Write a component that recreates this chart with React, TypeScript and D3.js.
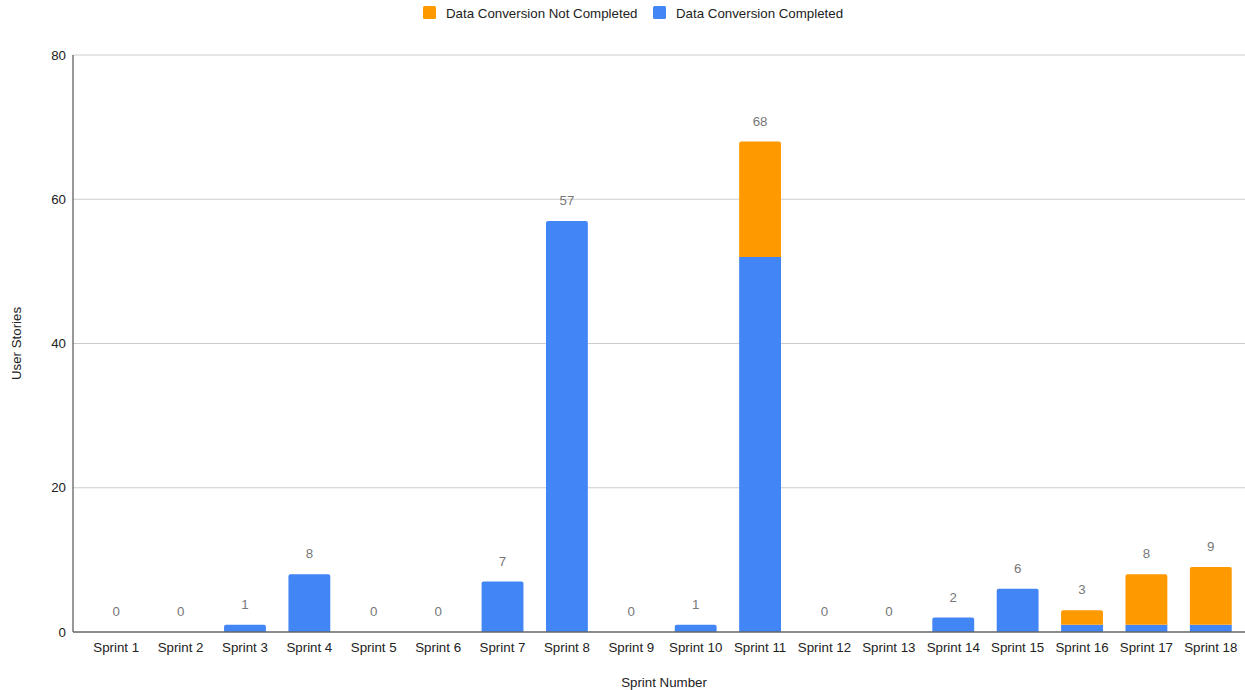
import React from "react";
import * as d3 from "d3";

const sprints = [
  "Sprint 1", "Sprint 2", "Sprint 3", "Sprint 4", "Sprint 5", "Sprint 6",
  "Sprint 7", "Sprint 8", "Sprint 9", "Sprint 10", "Sprint 11", "Sprint 12",
  "Sprint 13", "Sprint 14", "Sprint 15", "Sprint 16", "Sprint 17", "Sprint 18",
];
const completed = [0, 0, 1, 8, 0, 0, 7, 57, 0, 1, 52, 0, 0, 2, 6, 1, 1, 1];
const notCompleted = [0, 0, 0, 0, 0, 0, 0, 0, 0, 0, 16, 0, 0, 0, 0, 2, 7, 8];
const yTicks = [0, 20, 40, 60, 80];

const W = 1245;
const H = 690;
const plotLeft = 73;
const plotRight = 1245;
const plotTop = 55;
const plotBottom = 632;
const FONT = "'Liberation Sans', Arial, sans-serif";
const FS = 13.3;
const BLUE = "#4285f4";
const ORANGE = "#ff9900";

function topRoundedRect(x: number, y: number, w: number, h: number, r: number) {
  const rr = Math.min(r, h, w / 2);
  if (h <= 0) return "";
  return `M${x},${y + h}V${y + rr}Q${x},${y} ${x + rr},${y}H${x + w - rr}Q${x + w},${y} ${x + w},${y + rr}V${y + h}Z`;
}

export default function App() {
  const x = d3
    .scaleBand<string>()
    .domain(sprints)
    .range([84, 1243])
    .paddingInner(0.35)
    .paddingOuter(0.175);
  const y = d3.scaleLinear().domain([0, 80]).range([plotBottom, plotTop]);
  const bw = x.bandwidth();

  return (
    <svg
      width={W}
      height={H}
      style={{ position: "absolute", left: 0, top: 0, background: "#fff" }}
      fontFamily={FONT}
    >
      {/* legend */}
      <rect x={423} y={6} width={13} height={13} rx={1.5} fill={ORANGE} />
      <text x={446} y={17.5} fontSize={FS} fill="#222">Data Conversion Not Completed</text>
      <rect x={653} y={6} width={13} height={13} rx={1.5} fill={BLUE} />
      <text x={676} y={17.5} fontSize={FS} fill="#222">Data Conversion Completed</text>

      {/* gridlines */}
      {yTicks.filter((t) => t > 0).map((t) => (
        <line key={t} x1={plotLeft} x2={plotRight} y1={y(t)} y2={y(t)} stroke="#cccccc" strokeWidth={1} />
      ))}
      {yTicks.map((t) => (
        <text key={"yl" + t} x={66} y={y(t) + 4.5} fontSize={FS} textAnchor="end" fill="#222">{t}</text>
      ))}

      {/* bars */}
      {sprints.map((s, i) => {
        const x0 = x(s)!;
        const c = completed[i];
        const n = notCompleted[i];
        const total = c + n;
        return (
          <g key={s}>
            {c > 0 && (
              n > 0 ? (
                <rect x={x0} y={y(c)} width={bw} height={y(0) - y(c)} fill={BLUE} />
              ) : (
                <path d={topRoundedRect(x0, y(c), bw, y(0) - y(c), 2)} fill={BLUE} />
              )
            )}
            {n > 0 && (
              <path d={topRoundedRect(x0, y(total), bw, y(c) - y(total), 2)} fill={ORANGE} />
            )}
            <text
              x={x0 + bw / 2}
              y={y(total) - 16}
              fontSize={FS}
              textAnchor="middle"
              fill="#777777"
            >
              {total}
            </text>
            <text x={x0 + bw / 2} y={652} fontSize={FS} textAnchor="middle" fill="#222">{s}</text>
          </g>
        );
      })}

      {/* axes */}
      <line x1={plotLeft} x2={plotLeft} y1={plotTop} y2={plotBottom} stroke="#333" strokeWidth={1} />
      <line x1={plotLeft} x2={plotRight} y1={plotBottom} y2={plotBottom} stroke="#666" strokeWidth={1.5} />

      {/* axis titles */}
      <text x={664} y={687} fontSize={FS} textAnchor="middle" fill="#222">Sprint Number</text>
      <text
        transform={`translate(21,${(plotTop + plotBottom) / 2}) rotate(-90)`}
        fontSize={FS}
        textAnchor="middle"
        fill="#222"
      >
        User Stories
      </text>
    </svg>
  );
}
